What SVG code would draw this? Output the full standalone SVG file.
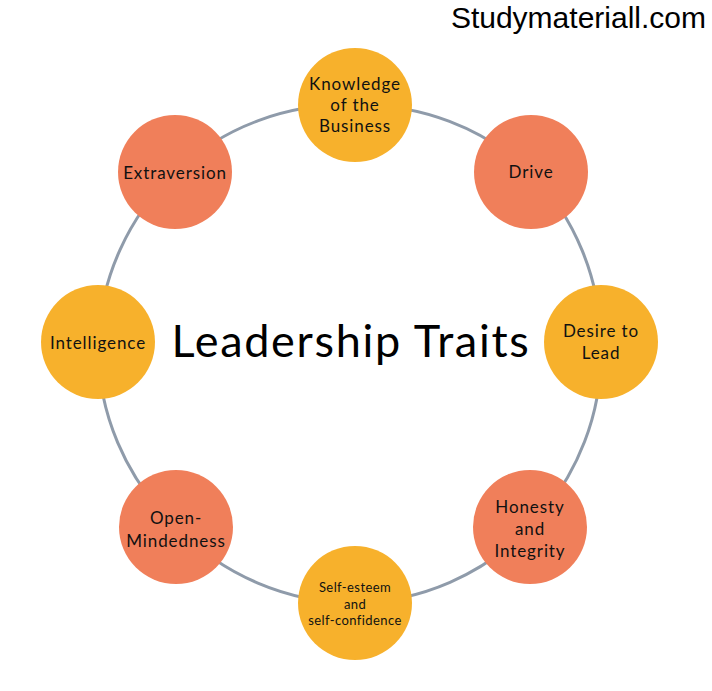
<svg xmlns="http://www.w3.org/2000/svg" width="712" height="691" viewBox="0 0 712 691">
<style>
.ring{fill:none;stroke:#8F9BAA;stroke-width:3}
.coral{fill:#F07F5A}
.gold{fill:#F7B12C}
.lbl{font-family:Lato,"Noto Sans",sans-serif;font-size:17px;fill:#111;text-anchor:middle;letter-spacing:0.9px}
.sm{font-size:13px;letter-spacing:0.4px}
.title{font-family:Lato,"Noto Sans",sans-serif;font-size:45px;fill:#000;text-anchor:middle;letter-spacing:1.7px}
.brand{font-family:"Liberation Sans",Arial,sans-serif;font-size:30px;fill:#000;text-anchor:end}
</style>
<rect width="712" height="691" fill="#fff"/>
<text class="brand" x="706" y="28">Studymateriall.com</text>
<g id="connectors">
<path class="ring" d="M355,105 A251,251 0 0 1 531,172"/>
<path class="ring" d="M531,172 A251,251 0 0 1 601,342"/>
<path class="ring" d="M601,342 A251,251 0 0 1 530,527"/>
<path class="ring" d="M530,527 A251,251 0 0 1 355,603"/>
<path class="ring" d="M355,603 A251,251 0 0 1 176,527"/>
<path class="ring" d="M176,527 A251,251 0 0 1 98,342"/>
<path class="ring" d="M98,342 A251,251 0 0 1 175,172"/>
<path class="ring" d="M175,172 A251,251 0 0 1 355,105"/>
</g>
<g id="title"><text class="title" x="351" y="357">Leadership Traits</text></g>
<g id="knowledge"><circle class="gold" cx="355" cy="105" r="57"/>
<text class="lbl" x="355" y="90">Knowledge</text><text class="lbl" x="355" y="111">of the</text><text class="lbl" x="355" y="132">Business</text></g>
<g id="drive"><circle class="coral" cx="531" cy="172" r="57"/>
<text class="lbl" x="531" y="178">Drive</text></g>
<g id="desire"><circle class="gold" cx="601" cy="342" r="57"/>
<text class="lbl" x="601" y="337">Desire to</text><text class="lbl" x="601" y="359">Lead</text></g>
<g id="honesty"><circle class="coral" cx="530" cy="527" r="57"/>
<text class="lbl" x="530" y="513">Honesty</text><text class="lbl" x="530" y="535">and</text><text class="lbl" x="530" y="557">Integrity</text></g>
<g id="selfesteem"><circle class="gold" cx="355" cy="603" r="57"/>
<text class="lbl sm" x="355" y="592">Self-esteem</text><text class="lbl sm" x="355" y="609">and</text><text class="lbl sm" x="355" y="625">self-confidence</text></g>
<g id="openmind"><circle class="coral" cx="176" cy="527" r="57"/>
<text class="lbl" x="176" y="524">Open-</text><text class="lbl" x="176" y="547">Mindedness</text></g>
<g id="intelligence"><circle class="gold" cx="98" cy="342" r="57"/>
<text class="lbl" x="98" y="349">Intelligence</text></g>
<g id="extraversion"><circle class="coral" cx="175" cy="172" r="57"/>
<text class="lbl" x="175" y="179">Extraversion</text></g>
</svg>
